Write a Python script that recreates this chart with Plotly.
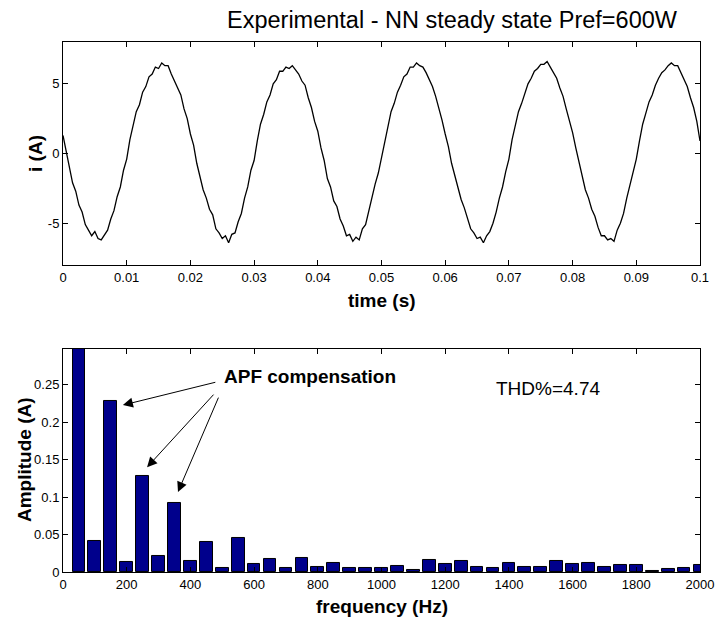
import plotly.graph_objects as go

dt = 0.0005
current = [
    1.3, 0.2, -0.9, -2.1, -2.7, -3.7, -4.2, -5.1, -5.5, -5.9,
    -5.6, -6.1, -6.2, -5.8, -5.5, -4.7, -4.1, -3.1, -2.4, -1.2,
    -0.4, 1.0, 1.9, 3.0, 3.5, 4.4, 4.8, 5.5, 5.7, 6.2,
    6.1, 6.5, 6.3, 6.3, 5.7, 5.2, 4.7, 4.2, 3.2, 2.5,
    1.4, 0.6, -0.7, -1.6, -2.6, -3.2, -4.0, -4.4, -5.4, -5.7,
    -6.1, -5.9, -6.4, -5.8, -5.7, -4.9, -4.3, -3.2, -2.4, -1.2,
    -0.5, 0.9, 2.1, 2.8, 3.7, 4.2, 5.0, 5.3, 5.9, 5.9,
    6.2, 6.1, 6.3, 6.0, 5.7, 5.2, 4.9, 4.0, 3.3, 2.3,
    1.6, 0.4, -0.5, -1.8, -2.4, -3.4, -3.8, -4.7, -5.2, -5.9,
    -5.8, -6.3, -6.0, -6.2, -5.4, -5.1, -4.1, -3.3, -2.2, -1.4,
    -0.3, 0.8, 2.0, 3.0, 3.6, 4.4, 4.9, 5.5, 5.7, 6.2,
    6.2, 6.5, 6.3, 6.2, 5.8, 5.3, 4.8, 4.1, 3.3, 2.4,
    1.4, 0.5, -0.7, -1.6, -2.5, -3.3, -3.9, -4.6, -5.4, -5.7,
    -6.1, -6.0, -6.4, -5.9, -5.6, -5.0, -4.2, -3.2, -2.4, -1.3,
    -0.4, 1.0, 1.9, 3.0, 3.6, 4.3, 5.0, 5.4, 5.9, 6.1,
    6.4, 6.4, 6.6, 6.2, 5.8, 5.4, 4.7, 4.1, 3.2, 2.4,
    1.5, 0.4, -0.6, -1.7, -2.6, -3.2, -4.0, -4.5, -5.3, -5.9,
    -5.9, -6.2, -6.1, -6.3, -5.5, -5.0, -4.3, -3.2, -2.3, -1.3,
    -0.4, 0.9, 2.1, 2.9, 3.7, 4.2, 4.9, 5.4, 5.8, 6.0,
    6.3, 6.5, 6.3, 6.3, 5.8, 5.3, 4.8, 4.0, 3.3, 2.3,
    0.9,
]
time = [round(k * dt, 4) for k in range(len(current))]

# harmonic spectrum, every 50 Hz
freqs = list(range(50, 2001, 50))
amplitude = [
    6.2, 0.0415, 0.2286, 0.013, 0.128, 0.021, 0.0924, 0.0152, 0.0406, 0.0058,
    0.046, 0.0103, 0.017, 0.0049, 0.019, 0.0071, 0.0116, 0.0049, 0.0058, 0.0058,
    0.008, 0.0027, 0.016, 0.0103, 0.0147, 0.0067, 0.0054, 0.0125, 0.0067, 0.0067,
    0.0147, 0.011, 0.0125, 0.0067, 0.0098, 0.0098, 0.0018, 0.0045, 0.0058, 0.0098,
]

top_xticks = [0, 0.01, 0.02, 0.03, 0.04, 0.05, 0.06, 0.07, 0.08, 0.09, 0.1]
top_yticks = [-5, 0, 5]
top_ylabels = ["-5", "0", "5"]
bot_xticks = [0, 200, 400, 600, 800, 1000, 1200, 1400, 1600, 1800, 2000]
bot_yticks = [0, 0.05, 0.1, 0.15, 0.2, 0.25]
bot_ylabels = ["0", "0.05", "0.1", "0.15", "0.2", "0.25"]

FONT = "Liberation Sans, Arial, sans-serif"

fig = go.Figure()

fig.add_trace(go.Scatter(
    x=time, y=current, mode="lines",
    line=dict(color="black", width=1.3),
    xaxis="x", yaxis="y", showlegend=False,
))

fig.add_trace(go.Bar(
    x=freqs, y=amplitude, width=40,
    marker=dict(color="#00008c", line=dict(color="black", width=1)),
    xaxis="x2", yaxis="y2", showlegend=False,
))

axis_style = dict(
    showline=True, linecolor="black", linewidth=1, mirror="ticks",
    ticks="inside", ticklen=5, tickcolor="black", showgrid=False,
    zeroline=False, automargin=False,
    tickfont=dict(family=FONT, size=13, color="black"),
)

fig.update_layout(
    width=715, height=619,
    margin=dict(l=63, r=15, t=42, b=47),
    paper_bgcolor="white", plot_bgcolor="white",
    xaxis=dict(domain=[0, 1], anchor="y", range=[0, 0.1],
               tickvals=top_xticks, **axis_style),
    yaxis=dict(domain=[0.5792, 1], anchor="x", range=[-8, 8],
               tickvals=top_yticks, ticktext=top_ylabels, **axis_style),
    xaxis2=dict(domain=[0, 1], anchor="y2", range=[0, 2000],
                tickvals=bot_xticks, **axis_style),
    yaxis2=dict(domain=[0, 0.4208], anchor="x2", range=[0, 0.298],
                tickvals=bot_yticks, ticktext=bot_ylabels, **axis_style),
    bargap=0,
)

label_font = dict(family=FONT, size=19, color="black")
fig.add_annotation(text="Experimental - NN steady state Pref=600W",
                   xref="paper", yref="paper", x=0.612, y=1.0415, xanchor="center",
                   yanchor="middle", showarrow=False,
                   font=dict(family=FONT, size=23.5, color="black"))
fig.add_annotation(text="<b>time (s)</b>", xref="paper", yref="paper",
                   x=0.5, y=0.513, xanchor="center", yanchor="middle",
                   showarrow=False, font=label_font)
fig.add_annotation(text="<b>frequency (Hz)</b>", xref="paper", yref="paper",
                   x=0.5, y=-0.066, xanchor="center", yanchor="middle",
                   showarrow=False, font=label_font)
fig.add_annotation(text="<b>i (A)</b>", xref="paper", yref="paper",
                   x=-0.0424, y=0.7906, xanchor="center", yanchor="middle",
                   textangle=-90, showarrow=False, font=label_font)
fig.add_annotation(text="<b>Amplitude (A)</b>", xref="paper", yref="paper",
                   x=-0.0612, y=0.2113, xanchor="center", yanchor="middle",
                   textangle=-90, showarrow=False, font=label_font)

fig.add_annotation(text="<b>APF compensation</b>", xref="x2", yref="y2",
                   x=500, y=0.261, xanchor="left", yanchor="middle",
                   showarrow=False, font=label_font)
fig.add_annotation(text="THD%=4.74", xref="x2", yref="y2",
                   x=1523, y=0.245, xanchor="center", yanchor="middle",
                   showarrow=False, font=label_font)

# arrows from the label to the compensated harmonics
arrows = [((483, 0.254), (188, 0.223)), ((477, 0.239), (264, 0.140)), ((490, 0.235), (361, 0.107))]
for (tx, ty), (hx, hy) in arrows:
    fig.add_annotation(x=hx, y=hy, ax=tx, ay=ty, xref="x2", yref="y2",
                       axref="x2", ayref="y2", text="", showarrow=True,
                       arrowhead=2, arrowsize=2, arrowwidth=1, arrowcolor="black")

# drop the default page margin so the figure sits at the window's corner
fig.write_html("out.html", config={"displayModeBar": False},
               post_script="document.body.style.margin = '0';")
